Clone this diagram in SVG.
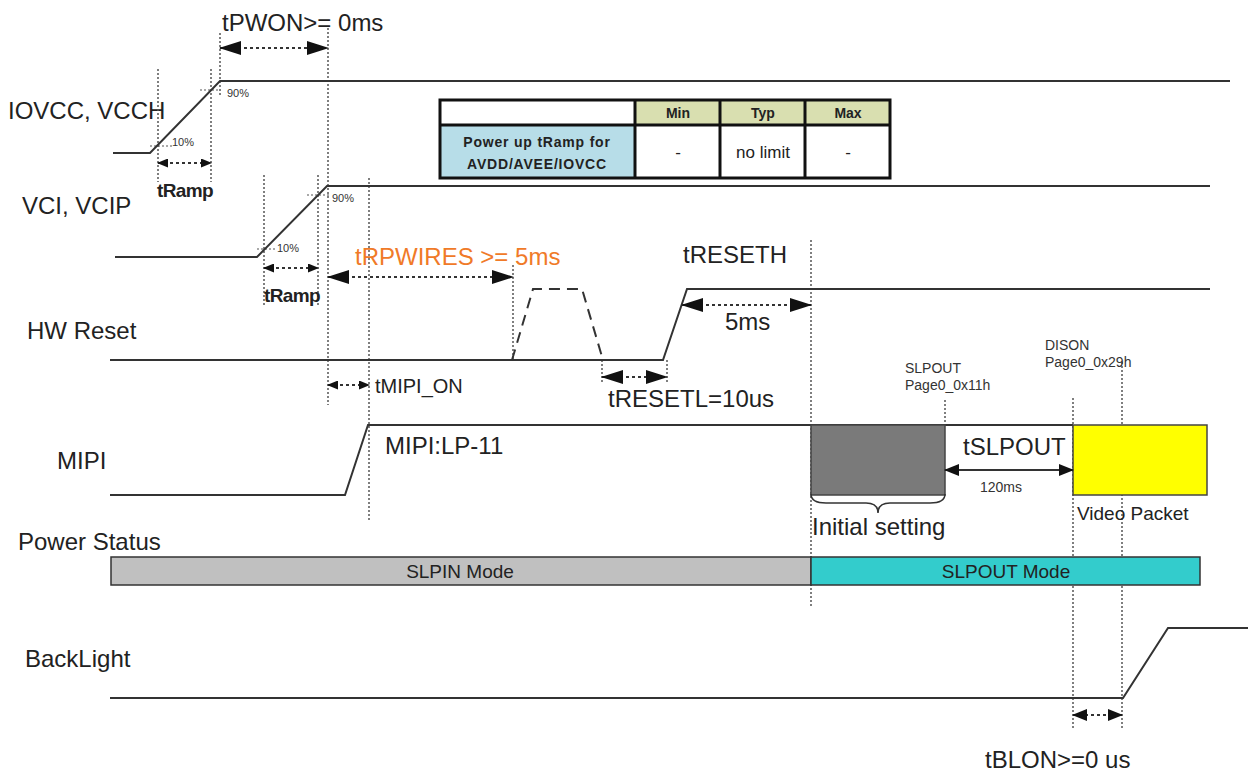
<svg xmlns="http://www.w3.org/2000/svg" width="1248" height="772" viewBox="0 0 1248 772">
<defs>
<style>
.sig{fill:none;stroke:#333;stroke-width:2}
.vd{fill:none;stroke:#555;stroke-width:1.5;stroke-dasharray:2,2}
.tick{fill:none;stroke:#555;stroke-width:1.2;stroke-dasharray:2,2}
.arr{fill:none;stroke:#333;stroke-width:1.8;stroke-dasharray:3,3}
.lbl{font-family:"Liberation Sans",Arial,sans-serif;font-size:24px;fill:#222}
.sm{font-family:"Liberation Sans",Arial,sans-serif;font-size:14px;fill:#333}
.pct{font-family:"Liberation Sans",Arial,sans-serif;font-size:11px;fill:#333}
.bold{font-family:"Liberation Sans",Arial,sans-serif;font-weight:bold;font-size:19px;fill:#222;letter-spacing:-0.6px}
.tb{font-family:"Liberation Sans",Arial,sans-serif;font-weight:bold;font-size:14px;fill:#222}
.tc{font-family:"Liberation Sans",Arial,sans-serif;font-size:17px;fill:#222}
</style>
<marker id="ah" markerUnits="userSpaceOnUse" markerWidth="22" markerHeight="14" refX="21" refY="7" orient="auto-start-reverse"><path d="M0,0 L22,7 L0,14 z" fill="#111"/></marker>
<marker id="am" markerUnits="userSpaceOnUse" markerWidth="15" markerHeight="12" refX="14" refY="6" orient="auto-start-reverse"><path d="M0,0 L15,6 L0,12 z" fill="#111"/></marker>
<marker id="as" markerUnits="userSpaceOnUse" markerWidth="11" markerHeight="9" refX="10" refY="4.5" orient="auto-start-reverse"><path d="M0,0 L11,4.5 L0,9 z" fill="#111"/></marker>
</defs>
<rect width="1248" height="772" fill="#fff"/>

<g id="labels">
<text class="lbl" x="8" y="119">IOVCC, VCCH</text>
<text class="lbl" x="22" y="214">VCI, VCIP</text>
<text class="lbl" x="27" y="339">HW Reset</text>
<text class="lbl" x="57" y="469">MIPI</text>
<text class="lbl" x="18" y="550">Power Status</text>
<text class="lbl" x="25" y="667">BackLight</text>
</g>

<g id="guides">
<line class="vd" x1="158" y1="69" x2="158" y2="182"/>
<line class="vd" x1="211" y1="69" x2="211" y2="182"/>
<line class="vd" x1="220" y1="33" x2="220" y2="97"/>
<line class="vd" x1="328" y1="28" x2="328" y2="405"/>
<line class="vd" x1="264" y1="175" x2="264" y2="305"/>
<line class="vd" x1="318" y1="175" x2="318" y2="305"/>
<line class="vd" x1="369" y1="178" x2="369" y2="522"/>
<line class="vd" x1="513" y1="265" x2="513" y2="360"/>
<line class="vd" x1="602" y1="360" x2="602" y2="382"/>
<line class="vd" x1="667" y1="360" x2="667" y2="384"/>
<line class="vd" x1="811" y1="240" x2="811" y2="606"/>
<line class="vd" x1="945" y1="400" x2="945" y2="425"/>
<line class="vd" x1="1073" y1="398" x2="1073" y2="730"/>
<line class="vd" x1="1122" y1="362" x2="1122" y2="730"/>
<line class="tick" x1="200" y1="90" x2="220" y2="90"/>
<line class="tick" x1="150" y1="146" x2="172" y2="146"/>
<line class="tick" x1="307" y1="195" x2="330" y2="195"/>
<line class="tick" x1="257" y1="249" x2="277" y2="249"/>
<text class="pct" x="227" y="97">90%</text>
<text class="pct" x="172" y="146">10%</text>
<text class="pct" x="332" y="202">90%</text>
<text class="pct" x="277" y="252">10%</text>
</g>

<g id="iovcc">
<polyline class="sig" points="113,153 150,153 220,81 1230,81"/>
</g>

<g id="vci">
<polyline class="sig" points="115,257 257,257 327,186 1210,186"/>
</g>

<g id="hwreset">
<polyline class="sig" points="110,360 663,360 687,289 1210,289"/>
<polyline class="sig" points="512,360 533,289 582,289 603,360" stroke-dasharray="11,7"/>
</g>

<g id="mipi">
<polyline class="sig" points="110,495 345,495 368,425 1073,425"/>
<rect x="811" y="425" width="134" height="70" fill="#7a7a7a" stroke="#444" stroke-width="1.5"/>
<rect x="1073" y="425" width="134" height="70" fill="#ffff00" stroke="#444" stroke-width="1.5"/>
<path d="M811,494 Q811,503 826,503 L866,503 Q878,503 878,513 Q878,503 890,503 L930,503 Q945,503 945,494" fill="none" stroke="#333" stroke-width="1.5"/>
</g>

<g id="powerstatus">
<rect x="111" y="557" width="700" height="28" fill="#c0c0c0" stroke="#333" stroke-width="1.5"/>
<rect x="811" y="557" width="389" height="28" fill="#33cccc" stroke="#333" stroke-width="1.5"/>
<text class="lbl" x="460" y="578" text-anchor="middle" style="font-size:19px">SLPIN Mode</text>
<text class="lbl" x="1006" y="578" text-anchor="middle" style="font-size:19px">SLPOUT Mode</text>
</g>

<g id="backlight">
<polyline class="sig" points="110,698 1123,698 1168,628 1248,628"/>
</g>

<g id="table">
<rect x="440" y="100" width="195" height="25" fill="#fff"/>
<rect x="635" y="100" width="255" height="25" fill="#d9dfb0"/>
<rect x="440" y="125" width="195" height="53" fill="#b7dde8"/>
<rect x="635" y="125" width="255" height="53" fill="#fff"/>
<g fill="none" stroke="#111" stroke-width="3">
<rect x="440" y="100" width="450" height="78"/>
<line x1="440" y1="125" x2="890" y2="125"/>
<line x1="635" y1="100" x2="635" y2="178"/>
<line x1="720" y1="100" x2="720" y2="178"/>
<line x1="805" y1="100" x2="805" y2="178"/>
</g>
<text class="tb" x="678" y="118" text-anchor="middle">Min</text>
<text class="tb" x="763" y="118" text-anchor="middle">Typ</text>
<text class="tb" x="848" y="118" text-anchor="middle">Max</text>
<text class="tb" x="537" y="147" text-anchor="middle" style="letter-spacing:0.8px">Power up tRamp for</text>
<text class="tb" x="537" y="169" text-anchor="middle" style="letter-spacing:0.8px">AVDD/AVEE/IOVCC</text>
<text class="tc" x="678" y="158" text-anchor="middle">-</text>
<text class="tc" x="763" y="158" text-anchor="middle">no limit</text>
<text class="tc" x="848" y="158" text-anchor="middle">-</text>
</g>

<g id="connectors">
<line class="arr" x1="220" y1="48" x2="328" y2="48" marker-start="url(#ah)" marker-end="url(#ah)"/>
<line class="arr" x1="158" y1="163" x2="211" y2="163" marker-start="url(#as)" marker-end="url(#as)"/>
<line class="arr" x1="264" y1="268" x2="318" y2="268" marker-start="url(#as)" marker-end="url(#as)"/>
<line class="arr" x1="328" y1="277" x2="513" y2="277" marker-start="url(#ah)" marker-end="url(#ah)"/>
<line class="arr" x1="682" y1="305" x2="811" y2="305" marker-start="url(#ah)" marker-end="url(#ah)"/>
<line class="arr" x1="602" y1="377" x2="667" y2="377" marker-start="url(#ah)" marker-end="url(#ah)"/>
<line class="arr" x1="328" y1="385" x2="369" y2="385" marker-start="url(#as)" marker-end="url(#as)"/>
<line x1="945" y1="470" x2="1073" y2="470" stroke="#333" stroke-width="2" marker-start="url(#am)" marker-end="url(#am)"/>
<line class="arr" x1="1073" y1="715" x2="1122" y2="715" marker-start="url(#am)" marker-end="url(#am)"/>
</g>

<g id="timing-labels">
<text class="lbl" x="222" y="31">tPWON&gt;= 0ms</text>
<text class="bold" x="157" y="197">tRamp</text>
<text class="bold" x="264" y="302">tRamp</text>
<text class="lbl" x="355" y="265" style="fill:#f07a28">tRPWIRES &gt;= 5ms</text>
<text class="lbl" x="683" y="263">tRESETH</text>
<text class="lbl" x="725" y="330">5ms</text>
<text class="lbl" x="608" y="407">tRESETL=10us</text>
<text class="lbl" x="375" y="393" style="font-size:20px">tMIPI_ON</text>
<text class="lbl" x="385" y="454">MIPI:LP-11</text>
<text class="sm" x="905" y="373">SLPOUT</text>
<text class="sm" x="905" y="390">Page0_0x11h</text>
<text class="sm" x="1045" y="350">DISON</text>
<text class="sm" x="1045" y="367">Page0_0x29h</text>
<text class="lbl" x="963" y="455">tSLPOUT</text>
<text class="sm" x="980" y="492">120ms</text>
<text class="lbl" x="812" y="535">Initial setting</text>
<text class="lbl" x="1077" y="520" style="font-size:19px">Video Packet</text>
<text class="lbl" x="985" y="768">tBLON&gt;=0 us</text>
</g>
</svg>
